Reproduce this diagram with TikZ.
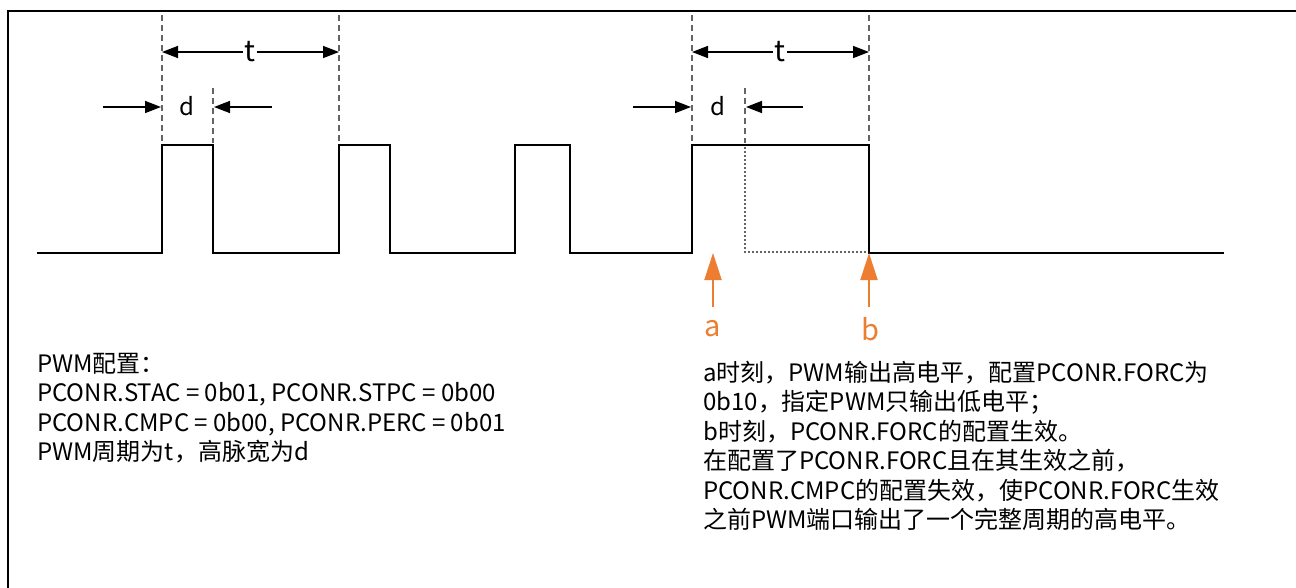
\documentclass[tikz,border=0pt]{standalone}
\usepackage{fontspec}
\setmainfont{Noto Sans CJK SC}
\usetikzlibrary{positioning,arrows.meta}
\definecolor{MarkOrange}{RGB}{237,125,49}
\definecolor{GuideGray}{RGB}{100,100,100}

\begin{document}
\begin{tikzpicture}[x=1pt,y=-1pt,
    every node/.style={font=\fontsize{24}{29.5}\selectfont},
    wave/.style={line width=2.4pt,line join=miter},
    guide/.style={GuideGray,line width=1.2pt,dash pattern=on 6pt off 4pt},
    ghost/.style={GuideGray,line width=1.2pt,dash pattern=on 2pt off 2pt},
    dimarrow/.style={line width=1.5pt,-{Triangle[length=16pt,width=12pt]}},
    markarrow/.style={MarkOrange,line width=2pt,-{Triangle[length=27pt,width=17pt]}},
    biglabel/.style={font=\fontsize{29}{30}\selectfont,inner sep=1pt}]
  \useasboundingbox (0,0) rectangle (1296,587);
  % frame
  \draw[line width=2.5pt] (8,600) -- (8,11) -- (1310,11);
  % pwm waveform
  \draw[wave] (37,253) -- (162,253) -- (162,145) -- (213,145) -- (213,253)
    -- (339,253) -- (339,145) -- (390,145) -- (390,253)
    -- (515,253) -- (515,145) -- (570,145) -- (570,253)
    -- (692,253) -- (692,145) -- (869,145) -- (869,253) -- (1224,253);
  % guides
  \draw[guide] (162,15) -- (162,143);
  \draw[guide] (213,88) -- (213,143);
  \draw[guide] (339,15) -- (339,143);
  \draw[guide] (692,15) -- (692,143);
  \draw[guide] (745,88) -- (745,143);
  \draw[guide] (869,15) -- (869,143);
  \draw[ghost] (745,147) -- (745,252) -- (867,252);

  % period t, first
  \node[biglabel,fill=white] (tone) at (250,52) {t};
  \coordinate (toneL) at (162,52);
  \coordinate (toneR) at (339,52);
  \draw[dimarrow] (tone) -- (toneL);
  \draw[dimarrow] (tone) -- (toneR);
  % period t, second
  \node[biglabel,fill=white] (ttwo) at (780,52) {t};
  \coordinate (ttwoL) at (692,52);
  \coordinate (ttwoR) at (869,52);
  \draw[dimarrow] (ttwo) -- (ttwoL);
  \draw[dimarrow] (ttwo) -- (ttwoR);

  % width d, first
  \node[font=\fontsize{24}{25}\selectfont] (done) at (187,106) {d};
  \coordinate (doneA) at (103,107);
  \coordinate (doneB) at (161,107);
  \coordinate (doneC) at (272,107);
  \coordinate (doneD) at (214,107);
  \draw[dimarrow] (doneA) -- (doneB);
  \draw[dimarrow] (doneC) -- (doneD);
  % width d, second
  \node[font=\fontsize{24}{25}\selectfont] (dtwo) at (718,106) {d};
  \coordinate (dtwoA) at (633,107);
  \coordinate (dtwoB) at (691,107);
  \coordinate (dtwoC) at (803,107);
  \coordinate (dtwoD) at (746,107);
  \draw[dimarrow] (dtwoA) -- (dtwoB);
  \draw[dimarrow] (dtwoC) -- (dtwoD);

  % moments a and b
  \node[biglabel,text=MarkOrange] (ma) at (713,329) {a};
  \node[biglabel,text=MarkOrange] (mb) at (870,329) {b};
  \coordinate (atip) at (713,253);
  \coordinate (btip) at (869,253);
  \draw[markarrow] (ma.north |- 0,307) -- (atip);
  \draw[markarrow] (869,307) -- (btip);

  % notes
  \node[anchor=north west,align=left,inner sep=0pt] (cfg) at (37,353)
    {PWM配置：\\
     PCONR.STAC = 0b01, PCONR.STPC = 0b00\\
     PCONR.CMPC = 0b00, PCONR.PERC = 0b01\\
     PWM周期为t，高脉宽为d};
  \node[anchor=north west,align=left,inner sep=0pt] (note) at (703,361)
    {a时刻，PWM输出高电平，配置PCONR.FORC为\\
     0b10，指定PWM只输出低电平；\\
     b时刻，PCONR.FORC的配置生效。\\
     在配置了PCONR.FORC且在其生效之前，\\
     PCONR.CMPC的配置失效，使PCONR.FORC生效\\
     之前PWM端口输出了一个完整周期的高电平。};
\end{tikzpicture}
\end{document}
